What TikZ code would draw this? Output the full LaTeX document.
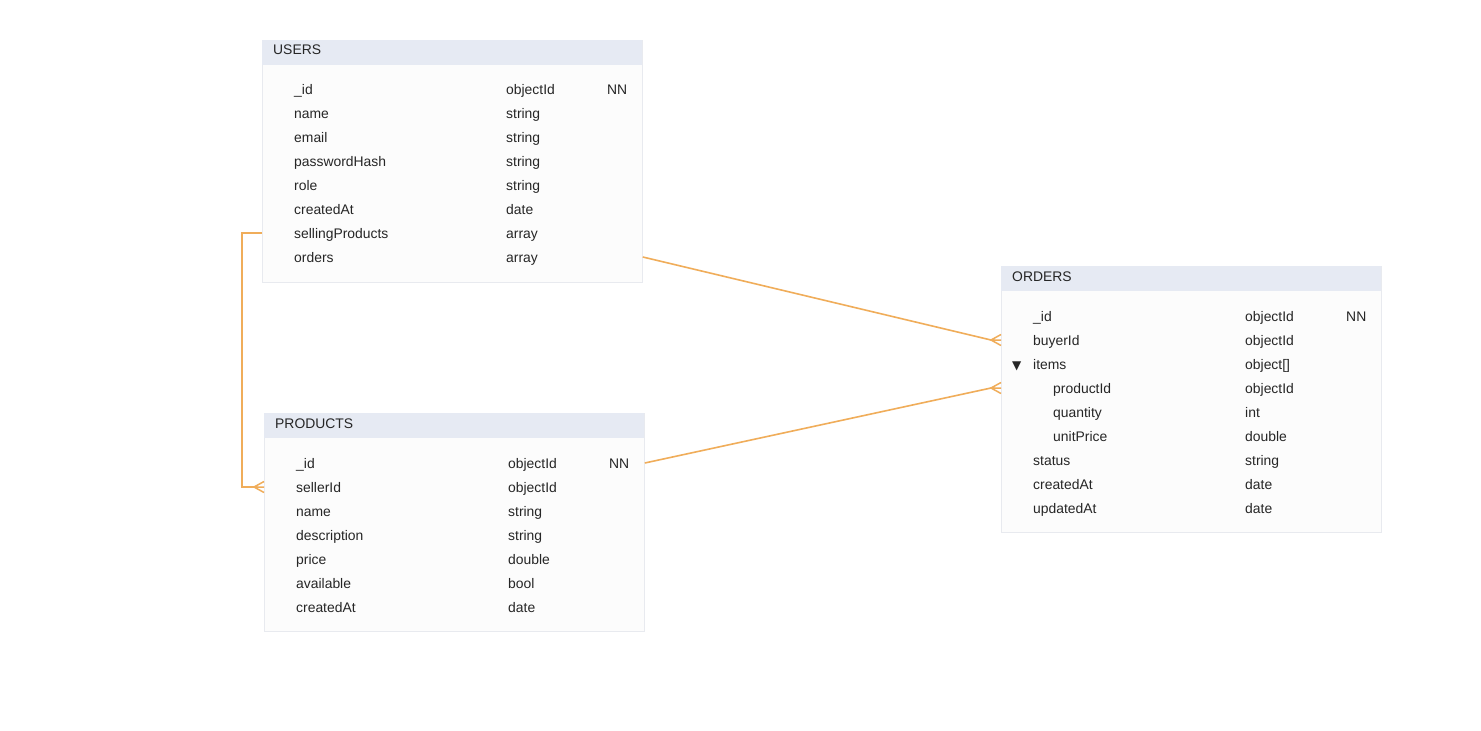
\documentclass[tikz,border=0pt]{standalone}
\usepackage{fontspec}
\setmainfont{Liberation Sans}
\newfontfamily\symfont{DejaVu Sans}
\definecolor{hdr}{HTML}{E6EAF3}
\definecolor{bodyfill}{HTML}{FCFCFC}
\definecolor{bordc}{HTML}{E8EAEF}
\definecolor{txt}{HTML}{262626}
\definecolor{rel}{HTML}{F0AD5A}
\tikzset{
  tblbox/.style={draw=bordc, line width=0.8pt, fill=bodyfill, anchor=north west, inner sep=0pt, minimum width=380pt},
  hdrbox/.style={fill=hdr, anchor=north west, inner sep=0pt, minimum width=380pt, minimum height=25pt},
  lbl/.style={anchor=base west, inner sep=0pt, text=txt, font=\fontsize{13.9}{16}\selectfont},
  relline/.style={draw=rel, line width=1.6pt},
  crow/.style={draw=rel, line width=1.5pt}
}
\begin{document}
\begin{tikzpicture}[x=1pt,y=-1pt]
\useasboundingbox[fill=white] (0,0) rectangle (1481,731);

% USERS
\node[tblbox, minimum height=242pt] (users) at (262,40) {};
\node[hdrbox] (usersh) at (262,40) {};
\node[lbl] (usersT) at (273,54.6) {USERS};
\foreach \n/\t [count=\i] in {\_id/objectId, name/string, email/string, passwordHash/string, role/string, createdAt/date, sellingProducts/array, orders/array}{
  \node[lbl] (un\i) at (294,{89+24*(\i-1)+5.6}) {\n};
  \node[lbl] (ut\i) at (506,{89+24*(\i-1)+5.6}) {\t};
}
\node[lbl] (unn) at (607,94.6) {NN};

% PRODUCTS
\node[tblbox, minimum height=218pt] (products) at (264,413) {};
\node[hdrbox] (productsh) at (264,413) {};
\node[lbl] (productsT) at (275,428.3) {PRODUCTS};
\foreach \n/\t [count=\i] in {\_id/objectId, sellerId/objectId, name/string, description/string, price/double, available/bool, createdAt/date}{
  \node[lbl] (pn\i) at (296,{463+24*(\i-1)+5.6}) {\n};
  \node[lbl] (pt\i) at (508,{463+24*(\i-1)+5.6}) {\t};
}
\node[lbl] (pnn) at (609,468.6) {NN};

% ORDERS
\node[tblbox, minimum height=266pt] (orders) at (1001,266) {};
\node[hdrbox] (ordersh) at (1001,266) {};
\node[lbl] (ordersT) at (1012,281.3) {ORDERS};
\foreach \n/\x/\t [count=\i] in {\_id/1033/objectId, buyerId/1033/objectId, items/1033/object[], productId/1053/objectId, quantity/1053/int, unitPrice/1053/double, status/1033/string, createdAt/1033/date, updatedAt/1033/date}{
  \node[lbl] (on\i) at (\x,{316+24*(\i-1)+5.6}) {\n};
  \node[lbl] (ot\i) at (1245,{316+24*(\i-1)+5.6}) {\t};
}
\node[lbl] (onn) at (1346,321.6) {NN};
\node[lbl, font=\symfont\fontsize{12}{14}\selectfont] (otri) at (1012,369.2) {▼};

% relation anchors
\coordinate (uOrd) at (users.east |- 0,257);
\coordinate (uSell) at (users.west |- 0,233);
\coordinate (pId) at (products.east |- 0,463);
\coordinate (pSell) at (products.west |- 0,487);
\coordinate (oBuyer) at (orders.west |- 0,340);
\coordinate (oProd) at (orders.west |- 0,388);

% USERS.orders -> ORDERS.buyerId
\coordinate (j1) at ([xshift=-10pt]oBuyer);
\draw[relline] (uOrd) -- (j1);
\draw[crow] ([yshift=-5.5pt]oBuyer) -- (j1) -- ([yshift=5.5pt]oBuyer) (j1) -- (oBuyer);

% PRODUCTS._id -> ORDERS.items.productId
\coordinate (j2) at ([xshift=-10pt]oProd);
\draw[relline] (pId) -- (j2);
\draw[crow] ([yshift=-5.5pt]oProd) -- (j2) -- ([yshift=5.5pt]oProd) (j2) -- (oProd);

% USERS.sellingProducts -> PRODUCTS.sellerId
\coordinate (j3) at ([xshift=-10pt]pSell);
\draw[relline] (uSell) -- (242,233) -- (242,487) -- (j3);
\draw[crow] ([yshift=-5.5pt]pSell) -- (j3) -- ([yshift=5.5pt]pSell) (j3) -- (pSell);
\end{tikzpicture}
\end{document}
